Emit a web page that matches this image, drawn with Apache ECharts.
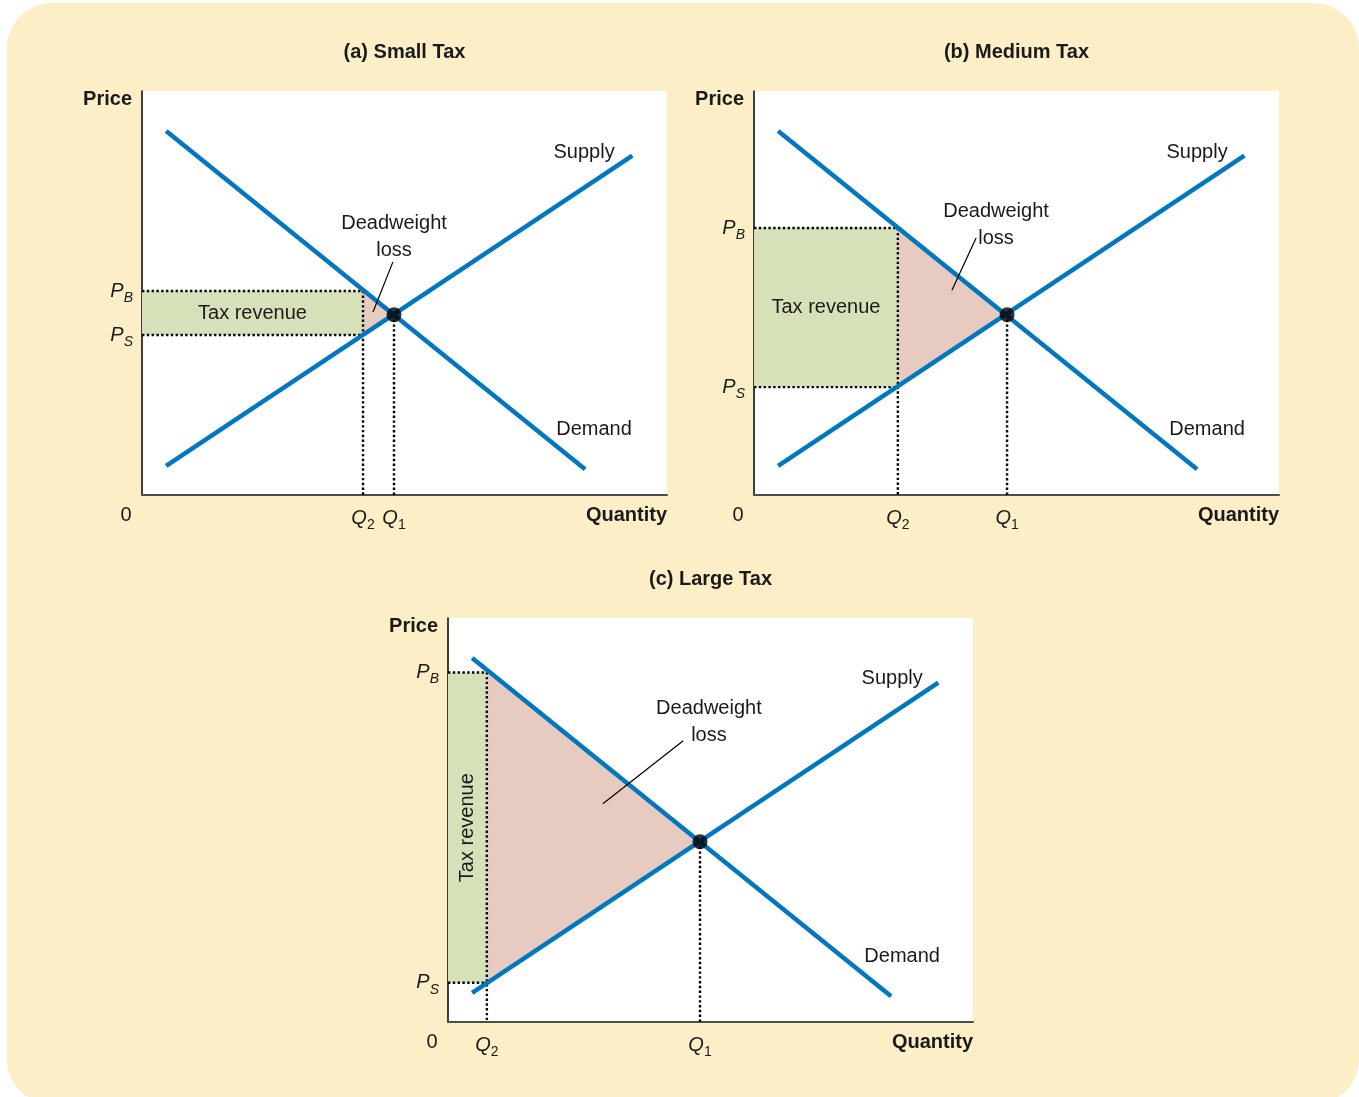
<!DOCTYPE html>
<html><head><meta charset="utf-8">
<script src="https://cdn.jsdelivr.net/npm/echarts@6/dist/echarts.min.js"></script>
<style>
html,body{margin:0;padding:0;background:#fff;}
#bg{position:absolute;left:7px;top:3px;width:1352px;height:1101px;background:#fcefc8;border-radius:45px;}
#chart{position:absolute;left:0;top:0;width:1359px;height:1097px;}
</style></head><body><div id="bg"></div><div id="chart"></div>
<script>
// ---- data (quantity and price in chart units 0..100) ----
const panelTitles = ['(a) Small Tax', '(b) Medium Tax', '(c) Large Tax'];
const demandQ = [4.6, 84.4];
const demandP = [90.1, 6.4];
const supplyQ = [4.6, 93.4];
const supplyP = [7.2, 84.0];
const equilibriumQ = [48.0, 48.2, 48.0];   // Q1
const equilibriumP = [44.6, 44.6, 44.6];
const taxedQ = [42.1, 27.4, 7.4];          // Q2
const buyerPrice = [50.5, 66.1, 86.5];     // PB
const sellerPrice = [39.6, 26.7, 9.7];     // PS

// ---- layout / annotation placement ----
const grids = [
  {left: 142, top: 91, width: 525, height: 404},
  {left: 754, top: 91, width: 525, height: 404},
  {left: 448, top: 618, width: 525, height: 404}
];
const supplyLabelAt = [[84.2, 84.9], [84.4, 84.9], [84.6, 85.1]];
const demandLabelAt = [[86.1, 16.1], [86.3, 16.1], [86.5, 16.1]];
const dwlLabelAt = [[48.0, 67.3], [46.1, 70.3], [49.7, 77.5]];
const leaderFrom = [[44.0, 45.3], [37.7, 50.7], [29.5, 54.0]];
const leaderTo = [[47.8, 57.7], [42.3, 63.6], [44.8, 69.6]];

const BLUE = '#0077c0', GREEN = '#d6e0b9', PINK = '#e7cbc0', INK = '#1a1a1a';
const FONT = '"Liberation Sans", Arial, sans-serif';

const rich = {
  i: {fontStyle: 'italic', fontSize: 20, fontFamily: FONT, lineHeight: 28, fill: INK},
  s: {fontStyle: 'italic', fontSize: 14, fontFamily: FONT, lineHeight: 14, verticalAlign: 'bottom', fill: INK},
  n: {fontSize: 14, fontFamily: FONT, lineHeight: 14, verticalAlign: 'bottom', fill: INK}
};

const xAxes = [], yAxes = [], series = [];
grids.forEach((g, i) => {
  xAxes.push({type: 'value', gridIndex: i, min: 0, max: 100,
    axisLine: {show: true, onZero: false, lineStyle: {color: '#4d4d4d', width: 2}},
    axisTick: {show: false}, axisLabel: {show: false}, splitLine: {show: false}});
  yAxes.push({type: 'value', gridIndex: i, min: 0, max: 100,
    axisLine: {show: true, onZero: false, lineStyle: {color: '#000', width: 1.5}},
    axisTick: {show: false}, axisLabel: {show: false}, splitLine: {show: false}});

  const q2 = taxedQ[i], pb = buyerPrice[i], ps = sellerPrice[i], q1 = equilibriumQ[i], p1 = equilibriumP[i];
  const polygon = (pts, color, z) => ({
    type: 'custom', xAxisIndex: i, yAxisIndex: i, clip: false, silent: true, z: z,
    data: [[0, 0]],
    renderItem: (params, api) => ({
      type: 'polygon',
      shape: {points: pts.map(p => api.coord(p))},
      style: {fill: color}
    })
  });
  series.push(polygon([[0, ps], [q2, ps], [q2, pb], [0, pb]], GREEN, 1));
  series.push(polygon([[q2, pb], [q2, ps], [q1, p1]], PINK, 1));

  const dotted = (data) => ({
    type: 'line', xAxisIndex: i, yAxisIndex: i, data: data, symbol: 'none', silent: true, z: 3,
    lineStyle: {color: '#000', width: 2.4, type: [2.4, 2.4], cap: 'butt'}
  });
  series.push(dotted([[0, pb], [q2, pb], [q2, 0]]));
  series.push(dotted([[0, ps], [q2, ps]]));
  series.push(dotted([[q1, p1], [q1, 0]]));

  const solid = (name, data) => ({
    name: name, type: 'line', xAxisIndex: i, yAxisIndex: i, data: data, symbol: 'none', silent: true, z: 5,
    lineStyle: {color: BLUE, width: 4.5, cap: 'butt'}
  });
  series.push(solid('Demand', demandQ.map((q, k) => [q, demandP[k]])));
  series.push(solid('Supply', supplyQ.map((q, k) => [q, supplyP[k]])));

  series.push({type: 'scatter', xAxisIndex: i, yAxisIndex: i, data: [[q1, p1]], symbol: 'circle',
    symbolSize: 15, itemStyle: {color: '#000'}, silent: true, z: 6});

  series.push({
    type: 'custom', xAxisIndex: i, yAxisIndex: i, clip: false, silent: true, z: 10,
    data: [[0, 0]],
    renderItem: (params, api) => {
      const ch = [];
      const T = (pt, text, o) => {
        o = o || {};
        const xy = api.coord(pt);
        ch.push({type: 'text', x: xy[0] + (o.dx || 0), y: xy[1] + (o.dy || 0), rotation: o.rot || 0,
          style: {text: text, fill: INK, font: o.font || ('20px ' + FONT), align: o.align || 'center',
            verticalAlign: 'middle', rich: o.rich}});
      };
      const bold = 'bold 20px ' + FONT;
      T([50, 100], panelTitles[i], {dy: -39, font: bold});
      T([0, 100], 'Price', {dx: -10, dy: 8, font: bold, align: 'right'});
      T([100, 0], 'Quantity', {dy: 20, font: bold, align: 'right'});
      T([0, 0], '0', {dx: -16, dy: 20});
      T([0, pb], '{i|P}{s|B}', {dx: -9, align: 'right', rich: rich});
      T([0, ps], '{i|P}{s|S}', {dx: -9, align: 'right', rich: rich});
      T([q2, 0], '{i|Q}{n|2}', {dy: 23, rich: rich});
      T([q1, 0], '{i|Q}{n|1}', {dy: 23, rich: rich});
      T(supplyLabelAt[i], 'Supply');
      T(demandLabelAt[i], 'Demand');
      T(dwlLabelAt[i], 'Deadweight');
      T(dwlLabelAt[i], 'loss', {dy: 27});
      if (i < 2) {
        T([q2 / 2, (pb + ps) / 2], 'Tax revenue');
      } else {
        T([q2 / 2, (pb + ps) / 2], 'Tax revenue', {rot: Math.PI / 2});
      }
      const a = api.coord(leaderFrom[i]), b = api.coord(leaderTo[i]);
      ch.push({type: 'line', shape: {x1: a[0], y1: a[1], x2: b[0], y2: b[1]}, style: {stroke: '#000', lineWidth: 1.2}});
      return {type: 'group', children: ch};
    }
  });
});

const chart = echarts.init(document.getElementById('chart'), null, {renderer: 'canvas'});
chart.setOption({
  backgroundColor: 'transparent',
  animation: false,
  grid: grids.map(g => Object.assign({show: true, backgroundColor: '#fff', borderWidth: 0}, g)),
  xAxis: xAxes,
  yAxis: yAxes,
  series: series
});
</script></body></html>
